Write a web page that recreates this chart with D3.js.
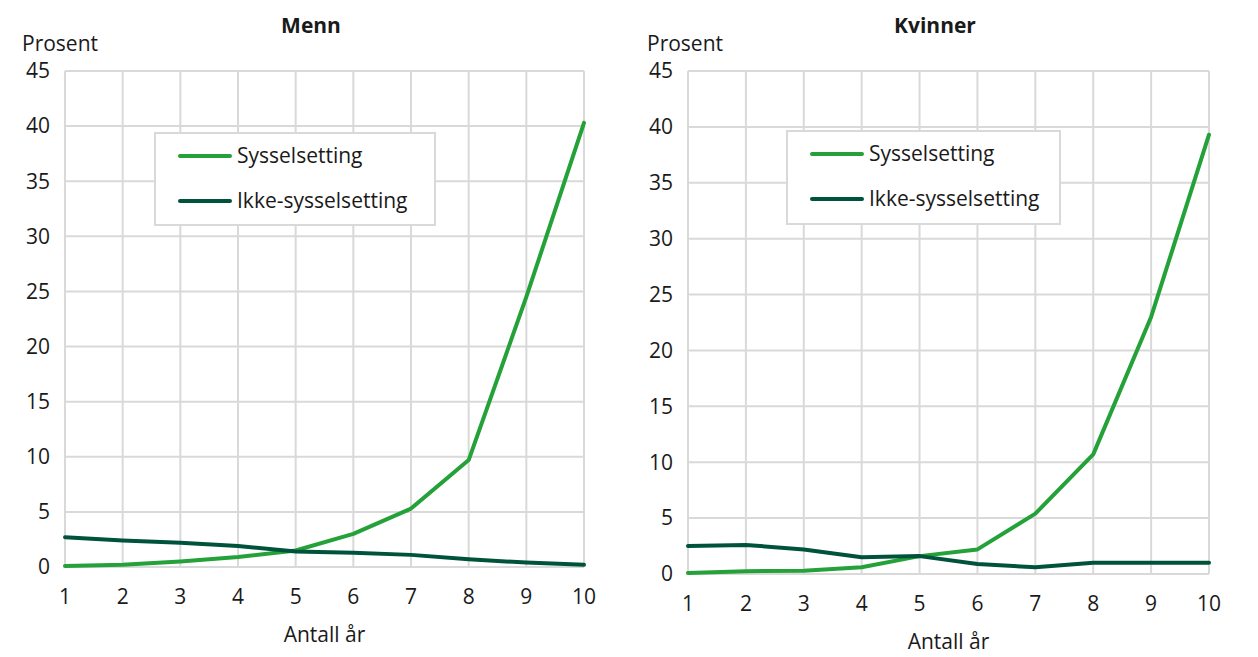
<!DOCTYPE html>
<html><head><meta charset="utf-8">
<script src="https://cdn.jsdelivr.net/npm/d3@7"></script>
<style>
body{margin:0;background:#fff;}
svg text{font-family:"Open Sans",sans-serif;fill:#1a1a1a;}
</style></head>
<body>
<svg id="c" width="1258" height="657"></svg>
<script>
const years = [1,2,3,4,5,6,7,8,9,10];
const yTicks = [0,5,10,15,20,25,30,35,40,45];
const seriesNames = ["Sysselsetting","Ikke-sysselsetting"];
const seriesColors = ["#24a139","#00533b"];
const mennSyssel = [0.1,0.2,0.5,0.9,1.5,3.0,5.3,9.7,24.5,40.3];
const mennIkke   = [2.7,2.4,2.2,1.9,1.4,1.3,1.1,0.7,0.4,0.2];
const kvinnerSyssel = [0.1,0.25,0.3,0.6,1.6,2.2,5.4,10.7,23.0,39.3];
const kvinnerIkke   = [2.5,2.6,2.2,1.5,1.6,0.9,0.6,1.0,1.0,1.0];
const titles = ["Menn","Kvinner"];
const yLabel = "Prosent";
const xLabel = "Antall år";
const FS = 21;

const svg = d3.select("#c");

function panel(o){
  const g = svg.append("g");
  const x = d3.scaleLinear().domain([1,10]).range([o.x0,o.x1]);
  const y = d3.scaleLinear().domain([0,45]).range([o.y0,o.y1]);
  g.append("g").selectAll("line").data(yTicks).join("line")
    .attr("x1",o.x0).attr("x2",o.x1).attr("y1",d=>y(d)).attr("y2",d=>y(d))
    .attr("stroke","#d9d9d9").attr("stroke-width",2);
  g.append("g").selectAll("line").data(years).join("line")
    .attr("x1",d=>x(d)).attr("x2",d=>x(d)).attr("y1",o.y0).attr("y2",o.y1)
    .attr("stroke","#d9d9d9").attr("stroke-width",2);
  g.append("g").selectAll("text").data(yTicks).join("text")
    .attr("x",o.x0-15).attr("y",d=>y(d)).attr("dy","0.35em")
    .attr("text-anchor","end").attr("font-size",FS).text(d=>d);
  g.append("g").selectAll("text").data(years).join("text")
    .attr("x",d=>x(d)).attr("y",o.y0+30).attr("dy","0.35em")
    .attr("text-anchor","middle").attr("font-size",FS).text(d=>d);
  g.append("text").attr("x",(o.x0+o.x1)/2).attr("y",o.y0+68).attr("dy","0.35em")
    .attr("text-anchor","middle").attr("font-size",FS).text(xLabel);
  g.append("text").attr("x",o.px).attr("y",44).attr("dy","0.35em")
    .attr("font-size",FS).text(yLabel);
  g.append("text").attr("x",o.tx).attr("y",26).attr("dy","0.35em")
    .attr("text-anchor","middle").attr("font-size",FS).attr("font-weight","bold").text(o.title);
  const line = d3.line().x((d,i)=>x(years[i])).y(d=>y(d));
  o.series.forEach((s,i)=>{
    g.append("path").attr("d",line(s)).attr("fill","none")
      .attr("stroke",seriesColors[i]).attr("stroke-width",4)
      .attr("stroke-linejoin","round").attr("stroke-linecap","round");
  });
  const L = o.leg;
  g.append("rect").attr("x",L.x).attr("y",L.y).attr("width",L.w).attr("height",L.h)
    .attr("fill","#fff").attr("stroke","#d9d9d9").attr("stroke-width",2);
  seriesNames.forEach((n,i)=>{
    const yy = L.y + 23 + i*45;
    g.append("line").attr("x1",L.x+25).attr("x2",L.x+25+L.sw).attr("y1",yy).attr("y2",yy)
      .attr("stroke",seriesColors[i]).attr("stroke-width",4).attr("stroke-linecap","round");
    g.append("text").attr("x",L.x+32+L.sw).attr("y",yy).attr("dy","0.35em")
      .attr("font-size",FS).text(n);
  });
}

panel({x0:65,x1:584,y0:567,y1:71,px:22,tx:311,title:titles[0],
  series:[mennSyssel,mennIkke],leg:{x:155,y:133,w:280,h:92,sw:50}});
panel({x0:688,x1:1209,y0:574,y1:71,px:647,tx:935,title:titles[1],
  series:[kvinnerSyssel,kvinnerIkke],leg:{x:787,y:131,w:273,h:93,sw:50}});
</script>
</body></html>
